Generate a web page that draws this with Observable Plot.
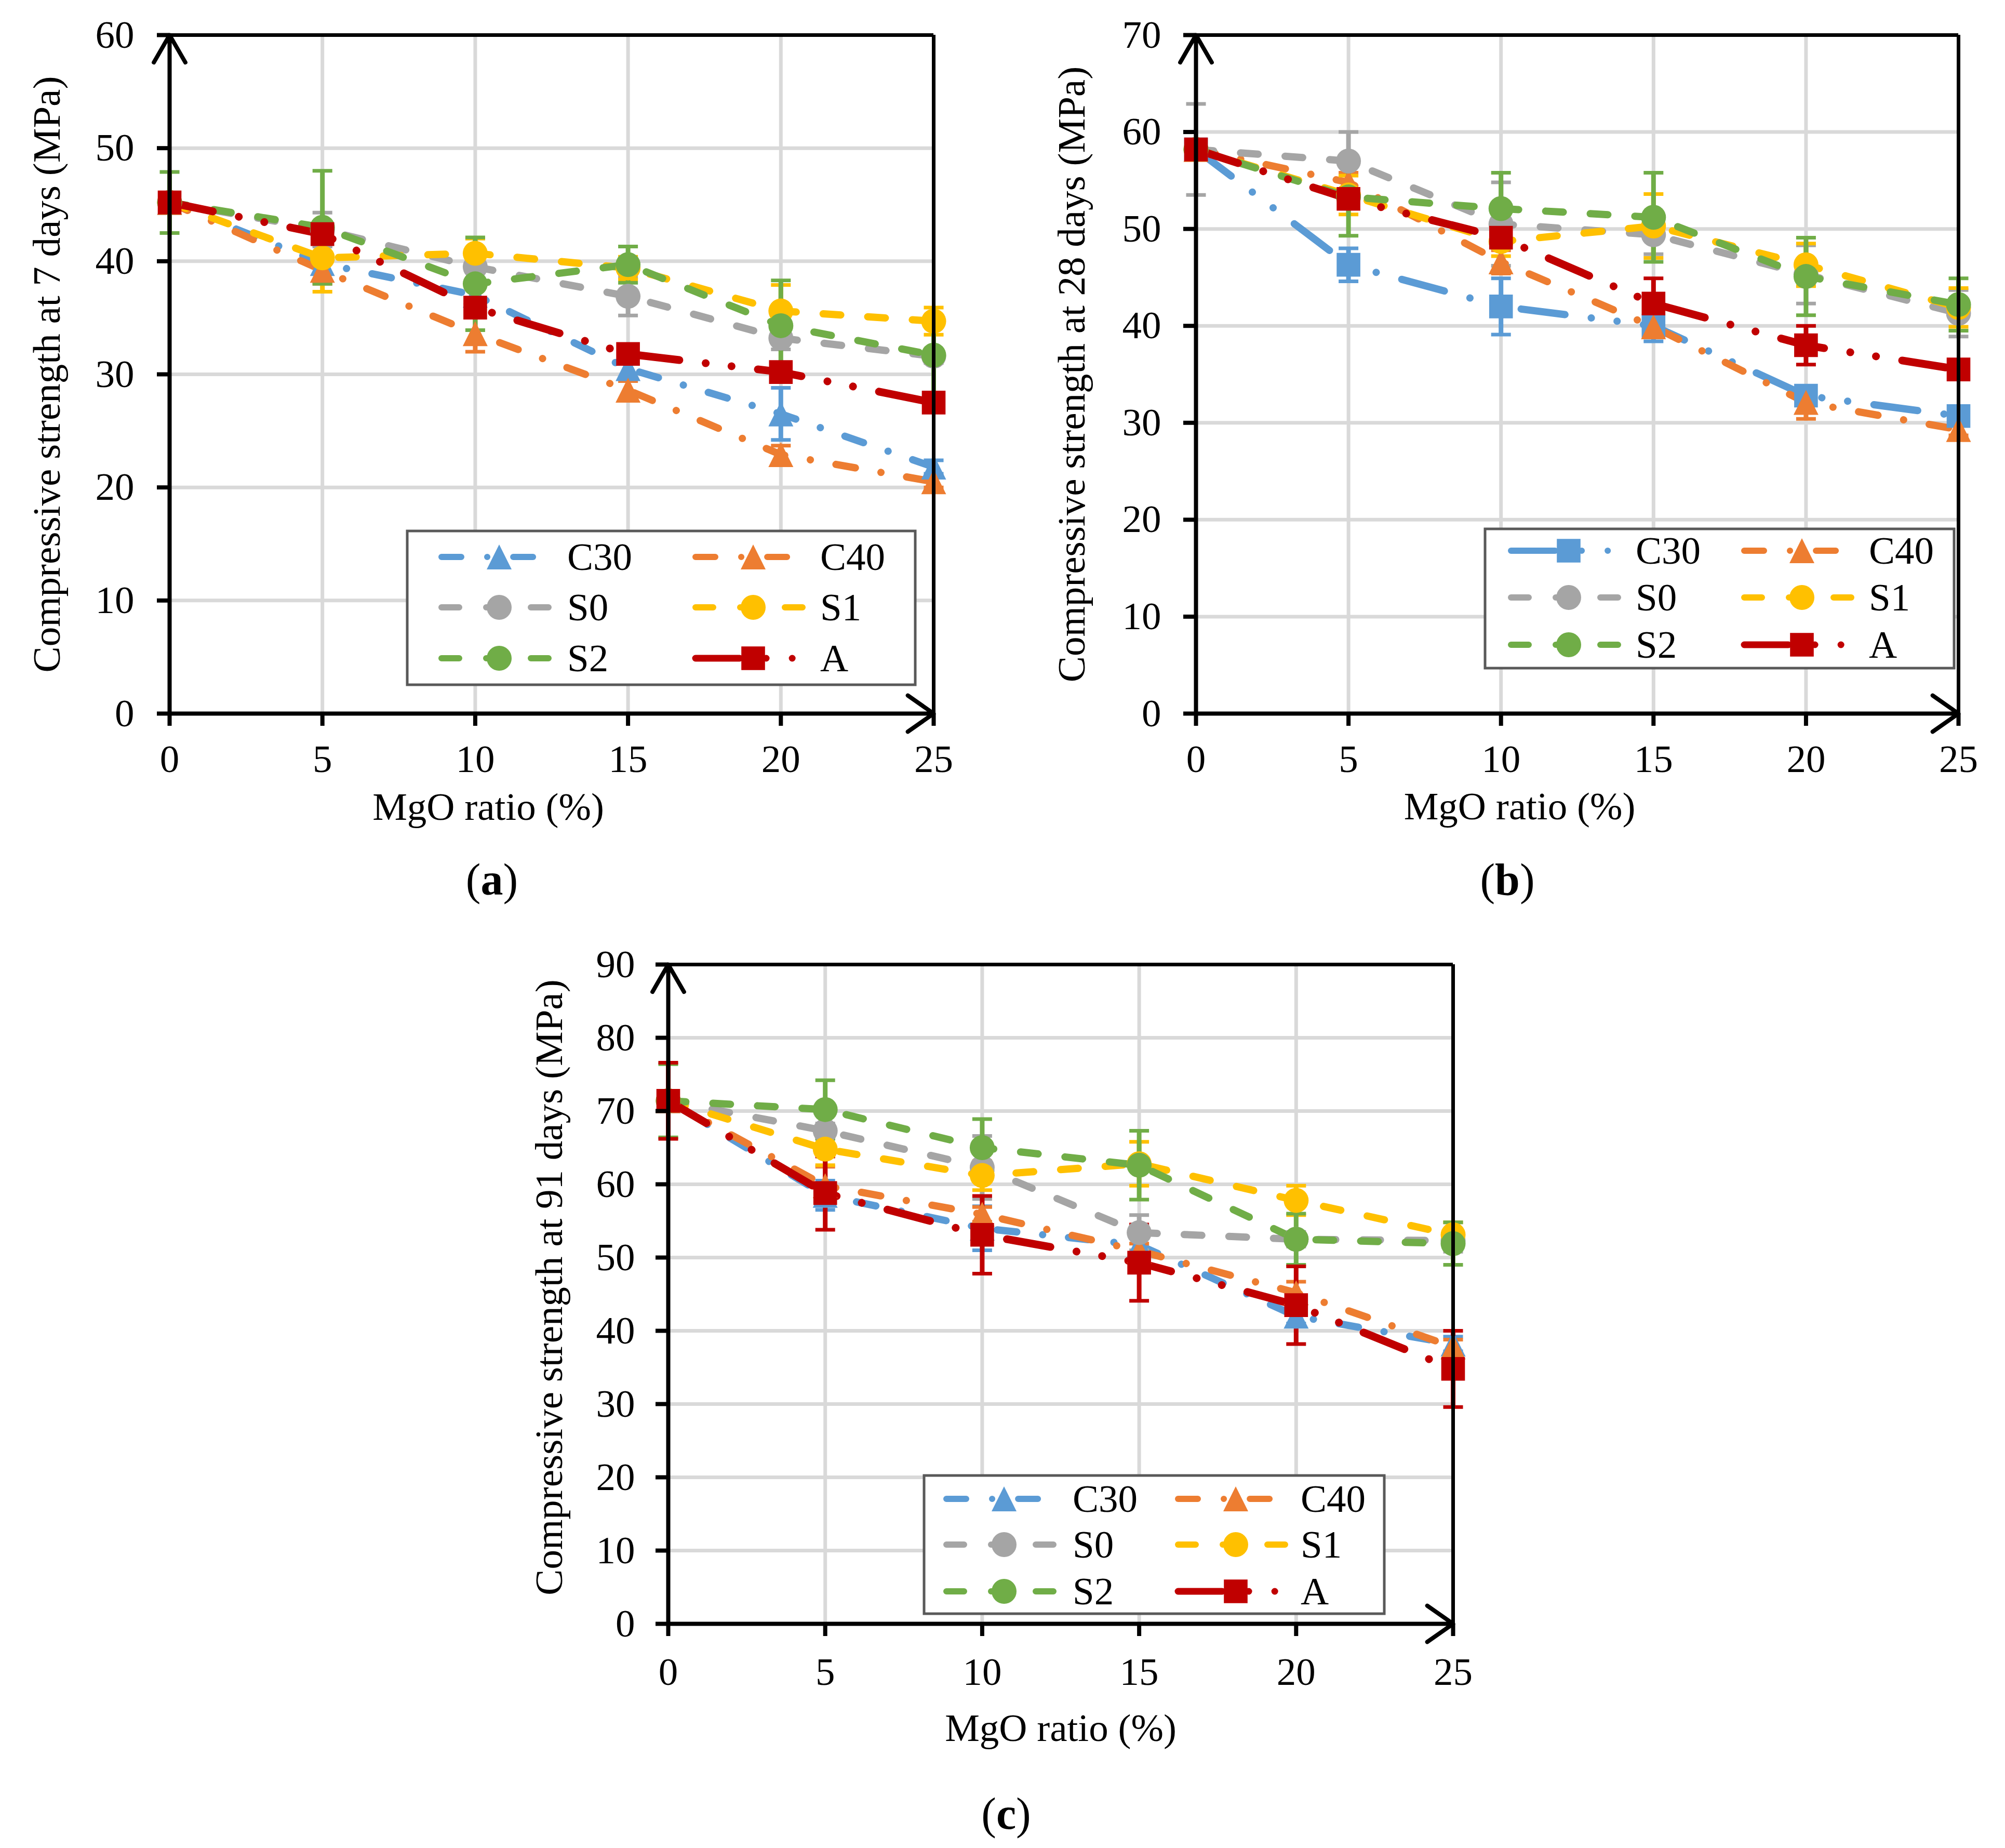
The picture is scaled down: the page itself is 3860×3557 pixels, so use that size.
<!DOCTYPE html>
<html>
<head>
<meta charset="utf-8">
<script src="https://cdn.jsdelivr.net/npm/d3@7"></script>
<script src="https://cdn.jsdelivr.net/npm/@observablehq/plot@0.6"></script>
<style>
  body { margin: 0; background: #fff; width: 3860px; height: 3557px; position: relative; overflow: hidden; }
  .panel { position: absolute; }
</style>
</head>
<body>
<div id="pa" class="panel" style="left:0px;top:0px;width:1930px"></div>
<div id="pb" class="panel" style="left:1930px;top:0px;width:1930px"></div>
<div id="pc" class="panel" style="left:1000px;top:1780px;width:1930px"></div>
<script>
const mgo = [0, 5, 10, 15, 20, 25]
const names = ["C30", "C40", "S0", "S1", "S2", "A"]

// compressive strength (MPa), one row per mix in the order of names
const strength7 = [
  [45.2, 39.8, 37.0, 30.5, 26.5, 21.8],
  [45.2, 39.2, 33.6, 28.6, 22.9, 20.5],
  [45.2, 42.8, 39.5, 36.9, 33.2, 31.6],
  [45.2, 40.3, 40.7, 39.4, 35.6, 34.7],
  [45.2, 43.0, 38.0, 39.7, 34.3, 31.7],
  [45.2, 42.4, 35.9, 31.8, 30.2, 27.5]
]
const error7 = [
  [0, 1.6, 0.8, 0.8, 2.3, 0.6],
  [0, 1.2, 1.6, 0.8, 0.8, 0.5],
  [0, 1.5, 1.2, 1.7, 1.0, 0.6],
  [0, 3.0, 1.3, 1.0, 2.3, 1.2],
  [2.7, 5.0, 4.1, 1.6, 4.0, 3.5],
  [0, 0.6, 0.6, 0.6, 0.5, 0.5]
]
const strength28 = [
  [58.2, 46.3, 42.0, 40.0, 32.8, 30.7],
  [58.2, 54.8, 46.6, 39.9, 32.1, 29.3],
  [58.2, 57.0, 50.5, 49.4, 45.3, 41.3],
  [58.2, 53.5, 48.7, 50.3, 46.3, 41.9],
  [58.2, 53.3, 52.1, 51.2, 45.1, 42.2],
  [58.2, 53.1, 49.1, 42.3, 38.0, 35.5]
]
const error28 = [
  [0, 1.7, 2.9, 1.6, 1.0, 0.6],
  [0, 1.0, 1.2, 1.0, 1.7, 0.6],
  [4.7, 3.0, 4.3, 2.0, 3.0, 2.4],
  [0, 2.0, 1.5, 3.3, 2.2, 2.0],
  [0, 4.0, 3.7, 4.6, 4.0, 2.7],
  [0, 0.8, 0.8, 2.6, 2.0, 0.6]
]
const strength91 = [
  [71.4, 58.5, 54.0, 51.7, 42.0, 38.2],
  [71.4, 59.8, 55.9, 50.9, 45.2, 37.8],
  [71.4, 67.3, 62.3, 53.4, 52.5, 52.3],
  [71.4, 64.8, 61.2, 62.8, 57.8, 53.1],
  [71.4, 70.2, 65.0, 62.6, 52.5, 51.9],
  [71.4, 58.8, 53.1, 49.3, 43.5, 34.8]
]
const error91 = [
  [0, 2.0, 3.0, 1.0, 1.0, 1.0],
  [0, 2.6, 1.0, 1.0, 1.5, 1.0],
  [0, 1.0, 4.3, 2.4, 1.0, 1.5],
  [0, 2.2, 2.0, 3.0, 2.0, 1.7],
  [5.0, 4.0, 3.9, 4.7, 3.5, 2.9],
  [5.2, 5.0, 5.3, 5.2, 5.3, 5.2]
]
const ticks7 = [0, 10, 20, 30, 40, 50, 60]
const ticks28 = [0, 10, 20, 30, 40, 50, 60, 70]
const ticks91 = [0, 10, 20, 30, 40, 50, 60, 70, 80, 90]

const font = "'Liberation Serif', 'Times New Roman', serif"

// marker shapes
const tri = {draw(ctx, size) { const r = Math.sqrt(size / Math.PI); ctx.moveTo(0, -r); ctx.lineTo(r, r); ctx.lineTo(-r, r); ctx.closePath() }}
const sq = {draw(ctx, size) { const r = Math.sqrt(size / Math.PI) * 0.95; ctx.rect(-r, -r, 2 * r, 2 * r) }}
const cap = {draw(ctx, size) { const r = Math.sqrt(size / Math.PI); ctx.moveTo(-r, 0); ctx.lineTo(r, 0) }}

const dashDot = "38,50,0.1,50"
const dash = "34,52"
const longDashDotDot = "85,51,0.1,50,0.1,51"

const baseStyle = {
  C30: {color: "#5B9BD5", symbol: tri, dash: dashDot, width: 14},
  C40: {color: "#ED7D31", symbol: tri, dash: dashDot, width: 14},
  S0: {color: "#A5A5A5", symbol: d3.symbolCircle, dash: dash, width: 14},
  S1: {color: "#FFC000", symbol: d3.symbolCircle, dash: dash, width: 14},
  S2: {color: "#70AD47", symbol: d3.symbolCircle, dash: dash, width: 14},
  A: {color: "#C00000", symbol: sq, dash: longDashDotDot, width: 15}
}

function createPanel(id, cfg) {
  const style = Object.assign({}, baseStyle, cfg.override || {})
  const rows = names.flatMap((name, s) => mgo.map((x, i) => ({name, x, y: cfg.values[s][i], e: cfg.errors[s][i]})))
  const yMax = cfg.yTicks[cfg.yTicks.length - 1]
  const m = cfg.margin

  const lines = names.map(name => Plot.line(rows.filter(d => d.name == name), {
    x: "x", y: "y", stroke: style[name].color, strokeWidth: style[name].width,
    strokeDasharray: style[name].dash, strokeLinecap: "round", strokeLinejoin: "round"
  }))
  const bars = names.flatMap(name => {
    const er = rows.filter(d => d.name == name && d.e > 0)
    return [
      Plot.ruleX(er, {x: "x", y1: d => d.y - d.e, y2: d => d.y + d.e, stroke: style[name].color, strokeWidth: 9}),
      Plot.dot(er, {x: "x", y: d => d.y - d.e, symbol: cap, r: 19, fill: "none", stroke: style[name].color, strokeWidth: 7}),
      Plot.dot(er, {x: "x", y: d => d.y + d.e, symbol: cap, r: 19, fill: "none", stroke: style[name].color, strokeWidth: 7})
    ]
  })
  const markers = names.map(name => Plot.dot(rows.filter(d => d.name == name), {
    x: "x", y: "y", symbol: style[name].symbol, r: 24, fill: style[name].color, stroke: "none"
  }))

  const chart = Plot.plot({
    width: cfg.size[0],
    height: cfg.size[1],
    marginLeft: m[0], marginTop: m[1], marginRight: m[2], marginBottom: m[3],
    style: {fontFamily: font, fontSize: "75px", color: "black", background: "white", overflow: "visible"},
    x: {domain: [0, 25]},
    y: {domain: [0, yMax]},
    marks: [
      Plot.ruleX(mgo, {stroke: "#d9d9d9", strokeWidth: 7}),
      Plot.ruleY(cfg.yTicks, {stroke: "#d9d9d9", strokeWidth: 7}),
      ...lines,
      ...bars,
      ...markers,
      Plot.ruleY([yMax], {stroke: "black", strokeWidth: 7}),
      Plot.ruleX([25], {stroke: "black", strokeWidth: 7}),
      Plot.arrow([{x1: 0, y1: 0, x2: 0, y2: yMax}], {x1: "x1", y1: "y1", x2: "x2", y2: "y2", stroke: "black", strokeWidth: 8, headLength: 11.4, headAngle: 60}),
      Plot.arrow([{x1: 0, y1: 0, x2: 25, y2: 0}], {x1: "x1", y1: "y1", x2: "x2", y2: "y2", stroke: "black", strokeWidth: 8, headLength: 11.4, headAngle: 70}),
      Plot.axisX({ticks: mgo, tickSize: 24, tickPadding: cfg.padX, strokeWidth: 8, fontSize: 75, label: null}),
      Plot.axisY({ticks: cfg.yTicks, tickSize: 24, tickPadding: cfg.padY, strokeWidth: 8, fontSize: 75, label: null}),
      Plot.text([cfg.yLabel], {frameAnchor: "left", textAnchor: "middle", dx: cfg.yLabelX - m[0], dy: cfg.yLabelDy || 0, rotate: -90, fontSize: 75}),
      Plot.text(["MgO ratio (%)"], {frameAnchor: "bottom", textAnchor: "middle", dx: cfg.xLabelDx, dy: cfg.xLabelDy, lineAnchor: "bottom", fontSize: 75})
    ]
  })

  // legend box inside the plot area
  const svg = d3.select(chart)
  const lg = cfg.legend
  const g = svg.append("g").attr("font-family", font).attr("font-size", 75).attr("text-anchor", "start")
  g.append("rect").attr("x", lg.box[0]).attr("y", lg.box[1]).attr("width", lg.box[2] - lg.box[0]).attr("height", lg.box[3] - lg.box[1])
    .attr("fill", "white").attr("stroke", "#595959").attr("stroke-width", 5)
  names.forEach((name, k) => {
    const st = style[name]
    const x0 = lg.lineX[k % 2], y0 = lg.rows[Math.floor(k / 2)]
    g.append("path").attr("d", `M${x0},${y0}H${x0 + 222}`).attr("stroke", st.color).attr("stroke-width", st.width - 2)
      .attr("stroke-dasharray", st.dash).attr("stroke-linecap", "round").attr("fill", "none")
    g.append("path").attr("d", d3.symbol(st.symbol, 24 * 24 * Math.PI)()).attr("transform", `translate(${x0 + 111},${y0})`).attr("fill", st.color)
    g.append("text").attr("x", lg.textX[k % 2]).attr("y", y0 + 25).text(name)
  })

  // caption (a), (b), (c)
  const c = svg.append("text").attr("x", cfg.caption[1]).attr("y", cfg.caption[2]).attr("text-anchor", "middle")
    .attr("font-family", font).attr("font-size", 86)
  c.append("tspan").text("(")
  c.append("tspan").attr("font-weight", "bold").text(cfg.caption[0])
  c.append("tspan").text(")")

  d3.select(id).append(() => chart)
}

createPanel("#pa", {
  values: strength7, errors: error7, yTicks: ticks7,
  yLabel: "Compressive strength at 7 days (MPa)",
  size: [1930, 1780], margin: [326, 67, 133, 407], padX: 35, padY: 44,
  yLabelX: 90, xLabelDx: -122, xLabelDy: 204,
  legend: {box: [784, 1022, 1762, 1318], lineX: [850, 1339], textX: [1092, 1579], rows: [1072, 1169, 1267]},
  caption: ["a", 947, 1722]
})

createPanel("#pb", {
  values: strength28, errors: error28, yTicks: ticks28,
  yLabel: "Compressive strength at 28 days (MPa)",
  override: {C30: {color: "#5B9BD5", symbol: sq, dash: longDashDotDot, width: 14}},
  size: [1930, 1780], margin: [372, 67, 90, 407], padX: 35, padY: 43,
  yLabelX: 133, xLabelDx: -111, xLabelDy: 203,
  legend: {box: [929, 1018, 1832, 1286], lineX: [979, 1428], textX: [1219, 1668], rows: [1060, 1150, 1241]},
  caption: ["b", 972, 1722]
})

createPanel("#pc", {
  values: strength91, errors: error91, yTicks: ticks91,
  yLabel: "Compressive strength at 91 days (MPa)",
  size: [1930, 1777], margin: [286, 76, 133, 432], padX: 40, padY: 40,
  yLabelX: 57, yLabelDy: -13, xLabelDx: 0, xLabelDy: 225,
  legend: {box: [779, 1060, 1665, 1326], lineX: [822, 1268], textX: [1065, 1504], rows: [1105, 1193, 1283]},
  caption: ["c", 937, 1740]
})
</script>
</body>
</html>
